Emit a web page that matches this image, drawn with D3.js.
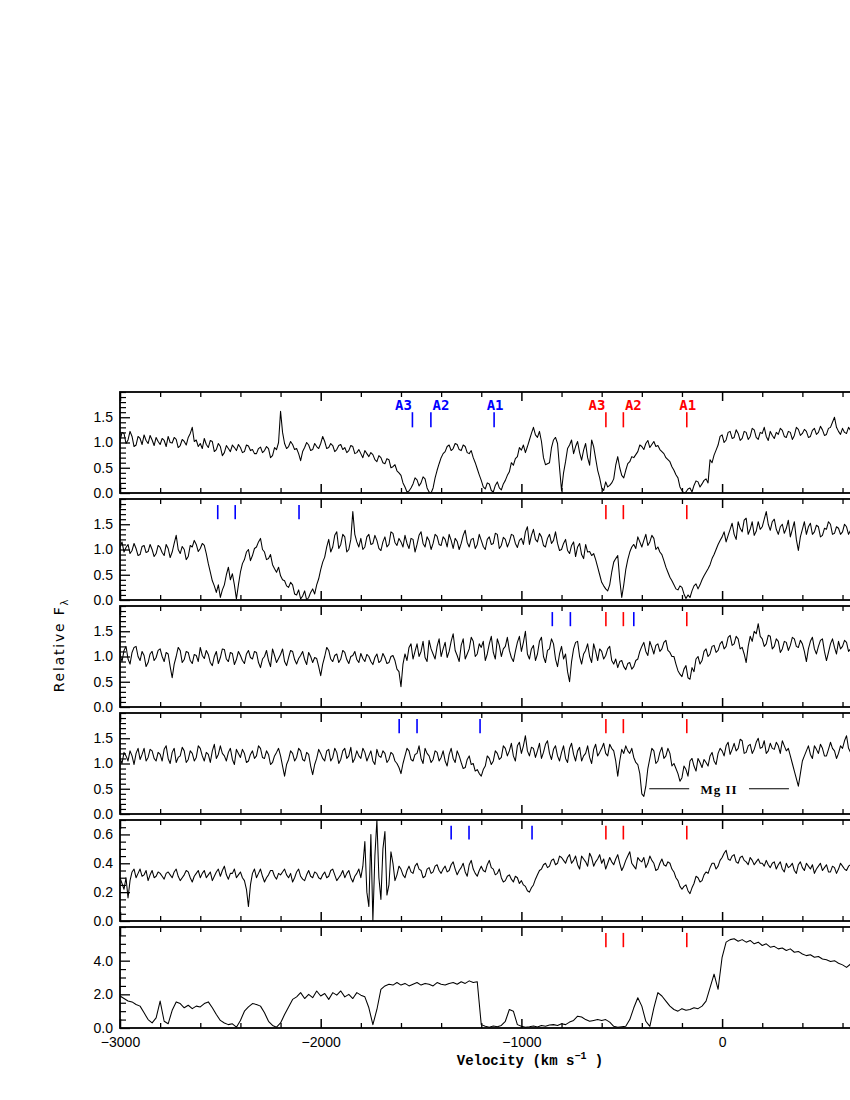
<!DOCTYPE html>
<html><head><meta charset="utf-8">
<script src="https://cdn.jsdelivr.net/npm/d3@7"></script>
<style>body{margin:0;background:#fff}</style>
</head><body><svg id="c" width="850" height="1100" xmlns="http://www.w3.org/2000/svg"></svg>
<script>
// ---- data: flux sampled from -3000 km/s (panels 1-5 every 10 km/s, panel 6 every 20 km/s) ----
const vStart = -3000;
const stepFine = 10, stepCoarse = 20;

const flux1 = [
1.02,1.20,1.18,0.98,1.05,1.22,1.12,0.92,0.95,1.12,1.08,0.96,1.15,1.04,0.98,1.14,1.05,0.94,1.10,1.02,
0.96,1.08,1.04,0.92,1.12,1.00,0.99,1.10,1.06,0.90,0.94,1.06,1.02,0.95,1.10,1.18,1.30,1.02,1.05,0.92,
0.98,0.88,1.08,0.96,0.90,1.04,1.02,0.82,0.86,0.98,0.92,0.74,0.80,0.94,0.88,0.82,0.95,0.90,0.84,0.96,
0.90,0.80,0.82,0.95,0.93,0.84,0.86,0.78,0.78,0.88,0.91,0.80,0.84,0.92,0.88,0.70,0.74,0.90,0.86,1.00,
1.62,1.20,0.98,0.88,0.92,1.02,0.96,0.86,0.88,0.78,0.64,0.82,0.90,1.00,0.95,0.84,0.86,0.98,0.92,0.88,
0.98,1.12,1.02,0.88,0.90,0.98,0.94,0.82,0.86,0.94,0.96,0.86,0.90,0.80,0.84,0.94,0.92,0.78,0.80,0.86,
0.78,0.70,0.84,0.78,0.72,0.80,0.76,0.66,0.62,0.74,0.70,0.60,0.58,0.68,0.66,0.50,0.52,0.56,0.44,0.40,
0.35,0.20,0.12,0.02,0.04,0.10,0.18,0.30,0.26,0.14,0.20,0.32,0.28,0.10,0.02,0.00,0.10,0.30,0.45,0.58,
0.70,0.78,0.82,0.92,0.95,0.84,0.88,0.98,0.96,0.86,0.84,0.95,0.92,0.80,0.78,0.84,0.70,0.60,0.48,0.36,
0.25,0.12,0.08,0.20,0.18,0.05,0.02,0.15,0.22,0.10,0.06,0.18,0.25,0.35,0.42,0.60,0.55,0.68,0.72,0.90,
0.85,0.95,0.80,0.92,1.05,1.18,1.30,1.15,1.10,1.22,1.02,0.70,0.56,0.58,0.60,0.90,1.05,1.10,0.98,0.50,
0.05,0.40,0.62,0.88,0.95,1.05,0.78,0.92,1.02,0.80,0.65,0.85,0.98,0.70,0.55,1.05,0.92,0.68,0.45,0.30,
0.10,0.05,0.22,0.12,0.15,0.20,0.28,0.55,0.72,0.50,0.35,0.30,0.45,0.58,0.62,0.72,0.70,0.76,0.82,0.95,
0.92,0.86,0.98,1.04,0.90,0.96,1.02,0.92,0.94,0.86,0.82,0.78,0.70,0.66,0.62,0.52,0.45,0.36,0.30,0.12,
0.05,0.00,0.02,0.08,0.10,0.02,0.15,0.24,0.22,0.12,0.18,0.25,0.28,0.20,0.66,0.60,0.75,0.85,0.95,1.12,
1.15,1.00,1.05,1.20,1.22,1.08,1.10,1.25,1.18,1.04,1.08,1.22,1.20,1.06,1.12,1.28,1.25,1.10,1.06,1.20,
1.18,1.30,1.12,1.04,1.22,1.14,1.08,1.20,1.16,1.28,1.24,1.12,1.10,1.22,1.20,1.06,1.14,1.30,1.26,1.14,
1.18,1.26,1.22,1.10,1.12,1.24,1.28,1.16,1.20,1.32,1.25,1.14,1.16,1.28,1.30,1.40,1.50,1.30,1.22,1.16,
1.28,1.20,1.18,1.30,1.24];

const flux2 = [
1.05,1.15,0.95,1.04,1.10,0.92,0.98,1.12,1.02,0.88,0.90,1.06,1.08,0.94,0.96,1.10,1.00,0.86,0.92,1.08,
1.04,0.94,0.88,1.10,1.02,0.84,0.95,1.12,1.28,1.00,0.92,1.06,1.00,0.80,0.86,1.08,1.05,1.18,1.10,0.96,
1.02,1.12,1.08,0.92,0.72,0.55,0.38,0.28,0.15,0.30,0.05,0.20,0.30,0.50,0.65,0.40,0.52,0.30,0.02,0.30,
0.55,0.72,0.80,0.95,1.00,0.78,0.88,1.02,1.05,1.15,1.22,1.00,0.95,0.80,0.82,0.90,0.70,0.62,0.55,0.65,
0.48,0.40,0.38,0.28,0.25,0.35,0.30,0.12,0.10,0.20,0.02,0.08,0.18,0.00,0.05,0.15,0.22,0.12,0.30,0.42,
0.60,0.75,0.85,1.05,1.20,0.95,1.05,1.28,1.35,1.02,1.10,1.30,1.25,0.95,1.00,1.20,1.75,1.30,1.15,1.05,
1.22,1.00,1.05,1.25,1.30,1.10,1.12,1.28,1.18,1.02,0.98,1.15,1.25,1.05,1.10,1.35,1.32,1.14,1.08,1.22,
1.15,1.05,1.28,1.12,1.02,1.22,1.20,0.95,1.10,1.28,1.35,1.12,1.05,1.25,1.18,1.00,1.12,1.30,1.26,1.10,
1.08,1.25,1.20,1.05,1.30,1.18,1.02,1.22,1.16,1.00,1.12,1.28,1.38,1.14,1.05,1.20,1.22,1.02,1.10,1.30,
1.18,1.06,1.00,1.20,1.25,1.10,1.12,1.32,1.30,1.02,1.08,1.24,1.20,1.05,1.15,1.30,1.28,1.12,1.04,1.18,
1.22,1.10,1.35,1.45,1.10,1.28,1.40,1.20,1.15,1.32,1.25,1.08,1.05,1.22,1.30,1.12,1.18,1.35,1.12,0.98,
1.00,1.12,1.20,0.98,0.92,1.08,1.15,0.86,1.05,1.12,0.90,0.82,1.10,0.95,0.96,0.88,0.92,0.80,0.65,0.50,
0.35,0.28,0.22,0.18,0.30,0.55,0.75,0.82,0.88,0.40,0.05,0.30,0.60,0.80,0.95,1.05,1.10,1.02,1.25,1.15,
1.05,1.18,1.30,1.08,1.15,1.28,1.22,1.00,1.05,0.95,0.90,0.78,0.65,0.55,0.45,0.38,0.30,0.22,0.20,0.28,
0.25,0.12,0.03,0.10,0.05,0.18,0.28,0.32,0.22,0.30,0.40,0.48,0.55,0.62,0.70,0.82,0.90,1.00,1.10,1.18,
1.25,1.35,1.15,1.28,1.40,1.52,1.30,1.20,1.55,1.42,1.35,1.58,1.62,1.30,1.40,1.55,1.28,1.36,1.55,1.40,
1.45,1.60,1.75,1.50,1.38,1.55,1.60,1.40,1.30,1.45,1.50,1.32,1.42,1.58,1.25,1.40,1.55,1.20,0.98,1.25,
1.40,1.55,1.30,1.45,1.52,1.30,1.35,1.48,1.45,1.25,1.28,1.42,1.40,1.55,1.50,1.30,1.32,1.45,1.42,1.30,
1.35,1.50,1.45,1.30,1.38];

const flux3 = [
1.05,0.90,1.12,1.20,0.95,0.85,1.08,1.18,1.20,1.00,0.92,1.10,1.02,0.80,0.88,1.05,1.10,0.92,0.98,1.12,
1.15,1.00,0.90,1.08,1.05,0.80,0.58,0.85,1.00,1.18,1.12,0.88,0.94,1.10,1.08,0.92,0.86,1.04,1.02,0.90,
1.18,1.02,0.96,1.12,1.04,0.88,0.82,1.00,1.10,0.86,0.98,1.15,1.14,0.95,0.90,1.08,1.06,0.84,0.94,1.10,
1.02,0.92,0.86,1.05,1.12,0.98,0.95,1.10,1.08,0.88,0.78,0.95,1.00,1.12,0.92,0.80,1.15,1.02,0.88,0.96,
1.04,1.15,0.90,0.82,0.98,1.12,1.10,0.94,0.85,0.96,1.02,1.10,0.94,0.84,1.08,1.00,0.88,0.98,0.96,0.80,
0.62,0.85,1.00,1.18,1.12,0.95,0.90,1.02,1.05,0.88,0.95,1.12,1.08,0.94,0.86,1.00,1.02,1.10,0.94,0.88,
1.06,0.96,0.90,1.04,1.00,0.90,0.84,0.98,1.05,0.88,0.92,1.06,0.98,0.86,0.88,1.00,1.02,0.92,0.75,0.70,
0.40,0.85,1.05,0.92,1.18,1.25,0.95,1.10,1.25,1.00,1.10,1.30,0.98,0.90,1.32,1.15,1.05,0.95,1.20,1.35,
1.00,1.15,1.28,0.98,1.10,1.30,1.45,1.12,1.02,0.90,1.22,1.35,0.95,1.05,1.15,1.38,1.30,1.00,1.05,1.25,
1.18,1.30,0.92,1.05,1.25,1.40,1.08,0.95,1.35,1.22,1.00,1.15,1.20,1.38,1.12,0.98,0.90,1.10,1.28,1.40,
1.10,1.28,1.50,1.05,0.95,1.15,1.22,0.92,1.05,1.30,1.38,1.00,0.88,1.12,1.15,1.35,1.25,0.95,0.80,1.05,
1.20,0.95,1.05,0.70,0.50,0.90,1.15,1.28,1.30,1.00,0.85,1.05,1.12,1.25,1.00,0.88,1.25,1.10,0.92,1.15,
1.10,0.95,1.02,1.15,1.20,0.92,0.85,0.95,0.78,0.90,0.92,0.80,0.74,0.86,0.88,0.75,0.80,0.92,0.95,1.10,
1.20,1.28,1.10,1.02,1.30,1.18,1.05,1.22,1.25,1.10,1.15,1.28,1.32,1.12,1.08,1.00,1.00,0.85,0.72,0.65,
0.60,0.75,0.82,0.58,0.55,0.78,0.70,0.95,1.00,0.85,0.92,1.10,1.15,1.00,1.05,1.20,1.22,1.08,1.12,1.25,
1.30,1.15,1.20,1.38,1.42,1.22,1.25,1.40,1.35,1.15,1.18,1.05,0.88,1.20,1.40,1.30,1.50,1.45,1.65,1.40,
1.35,1.20,1.25,1.42,1.40,1.15,1.20,1.35,1.30,1.08,1.15,1.30,1.28,1.12,1.22,1.38,1.35,1.20,1.18,1.32,
1.25,1.10,0.90,1.15,1.30,1.38,1.15,1.05,1.20,1.32,1.35,1.10,0.92,1.08,1.25,1.35,1.18,1.05,1.30,1.15,
1.20,1.32,1.28,1.10,1.15];

const flux4 = [
1.10,1.00,1.22,1.15,1.05,1.25,1.15,0.98,1.20,1.30,1.08,1.18,1.30,1.05,1.12,1.28,1.25,1.10,1.05,1.22,
1.18,1.05,1.28,1.35,1.10,1.00,1.22,1.30,1.02,1.12,1.15,1.32,1.25,1.02,1.08,1.25,1.20,1.05,1.12,1.35,
1.30,1.15,1.05,1.22,1.18,1.02,1.25,1.38,1.10,1.18,1.35,1.20,1.15,1.05,1.22,1.30,1.08,0.98,1.28,1.20,
1.12,1.28,1.20,1.02,1.05,1.18,1.25,1.10,1.15,1.35,1.30,1.12,1.10,1.25,1.18,0.98,1.02,1.15,1.22,1.30,
1.15,0.95,0.75,0.98,1.08,1.25,1.20,1.05,1.12,1.30,1.25,1.08,1.05,1.22,1.18,0.95,0.78,0.98,1.10,1.28,
1.20,1.10,1.05,1.25,1.28,1.05,1.12,1.30,1.22,1.00,1.08,1.25,1.30,1.10,1.15,1.32,1.02,1.10,1.25,1.15,
1.10,1.30,1.22,1.05,1.15,1.25,1.05,0.98,1.28,1.15,1.12,1.25,1.20,1.02,1.08,1.22,1.18,1.05,1.00,0.92,
0.80,1.00,1.15,1.30,1.25,1.08,1.05,1.18,1.20,1.35,1.10,1.00,1.30,1.20,1.15,1.02,1.08,1.25,1.22,1.05,
1.12,1.25,1.05,0.95,1.18,1.30,1.10,1.02,1.25,1.15,1.02,0.90,0.92,1.08,1.15,0.98,1.00,0.85,0.88,0.80,
0.75,0.88,0.95,1.15,1.10,0.98,1.05,1.25,1.20,1.08,1.12,1.35,1.30,1.15,1.25,1.40,1.15,1.05,1.35,1.42,
1.20,1.35,1.55,1.25,1.15,1.32,1.30,1.12,1.25,1.40,1.10,1.22,1.38,1.45,1.20,1.08,1.28,1.35,1.15,1.05,
1.22,1.35,1.10,1.02,1.30,1.40,1.18,1.05,1.25,1.32,1.05,1.15,1.20,1.35,1.12,1.00,1.28,1.38,1.15,1.22,
1.30,1.40,1.20,1.15,1.38,1.30,1.25,1.05,0.75,1.05,1.28,1.20,1.35,1.25,1.20,1.30,1.12,1.02,0.98,0.80,
0.40,0.35,0.55,0.90,1.10,1.30,1.25,1.00,1.05,1.22,1.32,1.10,1.15,1.30,1.20,0.95,1.00,0.90,0.80,0.65,
0.72,0.95,0.88,0.75,1.05,1.10,0.95,0.85,1.10,1.02,0.92,1.08,1.02,0.95,1.15,1.22,1.05,0.98,1.20,1.30,
1.25,1.15,1.35,1.42,1.18,1.28,1.40,1.25,1.30,1.48,1.45,1.20,1.22,1.35,1.38,1.20,1.28,1.42,1.50,1.30,
1.32,1.45,1.20,1.25,1.40,1.30,1.28,1.42,1.35,1.20,1.45,1.35,1.25,1.30,1.15,1.00,0.85,0.70,0.55,0.80,
1.05,1.15,1.25,1.35,1.18,1.10,1.35,1.28,1.20,1.38,1.30,1.15,1.15,1.28,1.42,1.30,1.25,1.10,1.20,1.35,
1.30,1.45,1.55,1.30,1.22];

const flux5 = [
0.30,0.26,0.22,0.30,0.16,0.28,0.34,0.36,0.30,0.33,0.36,0.31,0.32,0.35,0.28,0.32,0.35,0.30,0.31,0.34,
0.33,0.31,0.29,0.33,0.34,0.32,0.30,0.34,0.36,0.31,0.28,0.30,0.32,0.35,0.34,0.30,0.27,0.31,0.33,0.35,
0.30,0.33,0.35,0.30,0.32,0.34,0.28,0.31,0.34,0.36,0.31,0.35,0.38,0.32,0.29,0.33,0.33,0.36,0.30,0.32,
0.34,0.30,0.28,0.22,0.10,0.25,0.33,0.36,0.30,0.33,0.36,0.31,0.27,0.30,0.32,0.35,0.35,0.31,0.29,0.33,
0.32,0.34,0.36,0.32,0.30,0.33,0.27,0.30,0.34,0.36,0.31,0.29,0.28,0.32,0.35,0.31,0.30,0.34,0.33,0.30,
0.29,0.32,0.34,0.30,0.31,0.35,0.36,0.32,0.28,0.30,0.32,0.35,0.30,0.33,0.35,0.30,0.27,0.31,0.33,0.36,
0.30,0.38,0.55,0.20,0.10,0.60,0.00,0.45,0.70,0.30,0.15,0.50,0.62,0.18,0.25,0.48,0.40,0.28,0.32,0.38,
0.36,0.32,0.30,0.35,0.38,0.34,0.33,0.38,0.40,0.36,0.35,0.30,0.31,0.36,0.37,0.33,0.34,0.38,0.39,0.35,
0.33,0.36,0.38,0.34,0.35,0.39,0.41,0.36,0.32,0.35,0.37,0.40,0.34,0.31,0.39,0.42,0.36,0.33,0.31,0.35,
0.38,0.35,0.34,0.39,0.42,0.37,0.36,0.32,0.33,0.36,0.30,0.27,0.28,0.31,0.32,0.29,0.27,0.31,0.30,0.26,
0.28,0.25,0.24,0.21,0.20,0.23,0.25,0.29,0.32,0.35,0.36,0.39,0.40,0.37,0.38,0.42,0.43,0.39,0.40,0.45,
0.44,0.42,0.40,0.44,0.46,0.40,0.42,0.45,0.39,0.36,0.45,0.43,0.41,0.38,0.47,0.44,0.38,0.41,0.43,0.46,
0.40,0.43,0.36,0.40,0.44,0.41,0.39,0.43,0.46,0.40,0.35,0.38,0.42,0.45,0.48,0.40,0.38,0.36,0.44,0.42,
0.41,0.44,0.37,0.40,0.45,0.42,0.40,0.35,0.36,0.40,0.43,0.39,0.38,0.41,0.40,0.36,0.34,0.30,0.28,0.24,
0.22,0.24,0.25,0.21,0.19,0.23,0.26,0.31,0.30,0.27,0.28,0.32,0.34,0.33,0.37,0.40,0.40,0.36,0.38,0.42,
0.44,0.47,0.49,0.43,0.42,0.45,0.46,0.41,0.40,0.44,0.45,0.42,0.41,0.39,0.44,0.42,0.39,0.41,0.43,0.40,
0.40,0.38,0.42,0.39,0.37,0.40,0.41,0.36,0.39,0.41,0.36,0.34,0.40,0.37,0.38,0.40,0.35,0.33,0.39,0.41,
0.37,0.35,0.40,0.38,0.36,0.39,0.33,0.36,0.38,0.40,0.35,0.37,0.39,0.34,0.34,0.38,0.37,0.33,0.36,0.40,
0.38,0.36,0.35,0.38,0.39];

const flux6 = [
1.90,1.75,1.60,1.55,1.40,1.30,0.90,0.50,0.30,0.60,
1.60,0.40,0.25,1.05,1.55,1.45,1.20,1.35,1.15,1.30,
1.25,1.45,1.55,1.20,0.80,0.45,0.30,0.20,0.25,0.05,
0.45,1.00,1.25,1.45,1.40,1.30,0.90,0.40,0.15,0.05,
0.30,0.80,1.25,1.70,1.85,2.10,1.75,2.00,1.80,2.20,
1.90,2.05,1.70,2.10,1.95,2.20,1.85,2.00,1.75,2.10,
1.95,1.85,1.20,0.20,1.10,2.30,2.50,2.60,2.55,2.70,
2.55,2.65,2.50,2.60,2.70,2.55,2.65,2.60,2.50,2.70,
2.60,2.55,2.65,2.70,2.60,2.75,2.65,2.80,2.70,2.75,
0.20,0.10,0.05,0.12,0.08,0.15,0.40,1.10,1.00,0.20,
0.10,0.05,0.08,0.12,0.06,0.15,0.10,0.18,0.20,0.15,
0.25,0.20,0.35,0.45,0.70,0.65,0.50,0.40,0.45,0.50,
0.45,0.50,0.35,0.10,0.05,0.08,0.10,0.50,1.20,1.80,
1.30,0.40,0.10,1.20,2.10,1.90,1.60,1.30,1.10,1.00,
1.15,1.05,1.10,1.20,1.15,1.30,1.60,2.40,3.20,2.30,
4.20,5.10,5.25,5.30,5.15,5.25,5.10,5.20,5.00,5.10,
4.90,5.00,4.80,4.85,4.70,4.75,4.60,4.70,4.50,4.55,
4.40,4.30,4.35,4.20,4.25,4.10,4.05,3.95,4.00,3.85,
3.75,3.60,3.80];

// component markers (velocities, km/s)
const markLabels = ["A3", "A2", "A1"];
const redMarks   = [-579, -492, -176];
const blueMarks1 = [-1543, -1451, -1136];
const blueMarks2 = [-2513, -2426, -2108];
const blueMarks3 = [-846, -756, -440];
const blueMarks4 = [-1609, -1520, -1206];
const blueMarks5 = [-1350, -1261, -947];

// axis ticks
const xMajorTicks = [-3000, -2000, -1000, 0];
const yMajor14 = [0, 0.5, 1.0, 1.5];
const yMajor5  = [0, 0.2, 0.4, 0.6];
const yMajor6  = [0, 2, 4];

// Mg II annotation span (km/s)
const mgLabel = "Mg II";
const mgSpan = [-363, -164, 134, 333];

// ---- layout ----
const svg = d3.select("#c");
const left = 120, panelH = 101, firstTop = 392, panelStep = 107;
const x = d3.scaleLinear().domain([-3000, 1000]).range([left, left + 4 * 200.7]);

const panels = [
  {flux: flux1, step: stepFine, ymax: 2.0, major: yMajor14, minorStep: 0.1, blue: blueMarks1, mk: [1.3, 1.6], labels: true},
  {flux: flux2, step: stepFine, ymax: 2.0, major: yMajor14, minorStep: 0.1, blue: blueMarks2, mk: [1.6, 1.88]},
  {flux: flux3, step: stepFine, ymax: 2.0, major: yMajor14, minorStep: 0.1, blue: blueMarks3, mk: [1.6, 1.88]},
  {flux: flux4, step: stepFine, ymax: 2.0, major: yMajor14, minorStep: 0.1, blue: blueMarks4, mk: [1.6, 1.88], mg: true},
  {flux: flux5, step: stepFine, ymax: 0.7, major: yMajor5, minorStep: 0.05, blue: blueMarks5, mk: [0.565, 0.66]},
  {flux: flux6, step: stepCoarse, ymax: 6.0, major: yMajor6, minorStep: 0.5, blue: [], mk: [4.8, 5.65], last: true}
];

const defs = svg.append("defs");
const tickFont = "'Liberation Sans', Arial, sans-serif";
const fmt = d3.format(".1f");

panels.forEach((p, i) => {
  const top = firstTop + i * panelStep, bot = top + panelH;
  const y = d3.scaleLinear().domain([0, p.ymax]).range([bot, top]);
  const g = svg.append("g");

  defs.append("clipPath").attr("id", "clip" + i)
    .append("rect").attr("x", left).attr("y", top).attr("width", 900).attr("height", panelH);

  // spectrum
  const line = d3.line().x((d, k) => x(vStart + k * p.step)).y(d => y(d));
  g.append("path").datum(p.flux).attr("d", line)
    .attr("clip-path", `url(#clip${i})`)
    .attr("fill", "none").attr("stroke", "#000").attr("stroke-width", 1.05).attr("stroke-linejoin", "round");

  // y ticks (inward) + labels
  const minor = d3.range(0, p.ymax + 1e-9, p.minorStep).filter(v => !p.major.some(m => Math.abs(m - v) < 1e-6));
  const yAx = d3.axisLeft(y).tickValues(p.major).tickSizeInner(-10).tickSizeOuter(0).tickPadding(7).tickFormat(fmt);
  const ya = g.append("g").attr("transform", `translate(${left},0)`).call(yAx);
  ya.select(".domain").remove();
  ya.selectAll("line").attr("stroke-width", 1.3);
  ya.selectAll("text").attr("font-family", tickFont).attr("font-size", 14).attr("fill", "#000");
  const ym = g.append("g").attr("transform", `translate(${left},0)`)
    .call(d3.axisLeft(y).tickValues(minor).tickSizeInner(-6).tickSizeOuter(0).tickFormat(""));
  ym.select(".domain").remove();
  ym.selectAll("line").attr("stroke-width", 1.2);

  // x ticks top and bottom (inward)
  const xMinor = d3.range(-2800, 1000, 200).filter(v => v % 1000 !== 0);
  const xb = g.append("g").attr("transform", `translate(0,${bot})`)
    .call(d3.axisBottom(x).tickValues(xMajorTicks.concat([1000])).tickSizeInner(-9).tickSizeOuter(0).tickPadding(9)
      .tickFormat(p.last ? d3.format("d") : ""));
  xb.select(".domain").remove();
  xb.selectAll("line").attr("stroke-width", 1.5);
  xb.selectAll("text").attr("font-family", tickFont).attr("font-size", 14).attr("fill", "#000")
    .filter(d => d > 0).remove();
  const xbm = g.append("g").attr("transform", `translate(0,${bot})`)
    .call(d3.axisBottom(x).tickValues(xMinor).tickSizeInner(-5).tickSizeOuter(0).tickFormat(""));
  xbm.select(".domain").remove(); xbm.selectAll("line").attr("stroke-width", 1.3);
  const xt = g.append("g").attr("transform", `translate(0,${top})`)
    .call(d3.axisTop(x).tickValues(xMajorTicks.concat([1000])).tickSizeInner(-9).tickSizeOuter(0).tickFormat(""));
  xt.select(".domain").remove(); xt.selectAll("line").attr("stroke-width", 1.5);
  const xtm = g.append("g").attr("transform", `translate(0,${top})`)
    .call(d3.axisTop(x).tickValues(xMinor).tickSizeInner(-5).tickSizeOuter(0).tickFormat(""));
  xtm.select(".domain").remove(); xtm.selectAll("line").attr("stroke-width", 1.3);

  // frame
  g.append("rect").attr("x", left).attr("y", top).attr("width", x(1000) - left).attr("height", panelH)
    .attr("fill", "none").attr("stroke", "#000").attr("stroke-width", 1.8);

  // markers
  const drawMarks = (vals, color) => {
    g.selectAll(null).data(vals).enter().append("line")
      .attr("x1", d => x(d)).attr("x2", d => x(d))
      .attr("y1", y(p.mk[0])).attr("y2", y(p.mk[1]))
      .attr("stroke", color).attr("stroke-width", 1.6);
    if (p.labels) {
      g.selectAll(null).data(vals).enter().append("text")
        .attr("x", (d, k) => x(d) + (k === 0 ? -9 : k === 1 ? 10 : 1))
        .attr("y", y(p.mk[1]) - 2)
        .attr("text-anchor", "middle")
        .attr("font-family", "'DejaVu Sans Mono', monospace").attr("font-weight", "bold")
        .attr("font-size", 14).attr("fill", color)
        .text((d, k) => markLabels[k]);
    }
  };
  drawMarks(p.blue, "#0000ff");
  drawMarks(redMarks, "#ff0000");

  if (p.mg) {
    const yy = y(0.5);
    g.append("line").attr("x1", x(mgSpan[0])).attr("x2", x(mgSpan[1])).attr("y1", yy).attr("y2", yy)
      .attr("stroke", "#000").attr("stroke-width", 1);
    g.append("line").attr("x1", x(mgSpan[2])).attr("x2", x(mgSpan[3])).attr("y1", yy).attr("y2", yy)
      .attr("stroke", "#000").attr("stroke-width", 1);
    g.append("text").attr("x", x((mgSpan[1] + mgSpan[2]) / 2)).attr("y", yy + 5)
      .attr("text-anchor", "middle").attr("font-family", "'Liberation Serif', serif").attr("font-weight", "bold")
      .attr("font-size", 13).attr("letter-spacing", 1).text(mgLabel);
  }
});

// axis titles
const xt = svg.append("text").attr("x", 530).attr("y", 1065).attr("text-anchor", "middle")
  .attr("font-family", "'Liberation Mono', monospace").attr("font-weight", "bold").attr("font-size", 14);
xt.append("tspan").text("Velocity (km s");
xt.append("tspan").attr("dy", -6).attr("font-size", 10).text("−1");
xt.append("tspan").attr("dy", 6).text(" )");

const yt = svg.append("text").attr("transform", "translate(64,645) rotate(-90)").attr("text-anchor", "middle")
  .attr("font-family", "'DejaVu Sans', sans-serif").attr("font-size", 14).attr("letter-spacing", 1.8);
yt.append("tspan").text("Relative  F");
yt.append("tspan").attr("dy", 4).attr("font-size", 10).text("λ");
</script>
</body></html>
